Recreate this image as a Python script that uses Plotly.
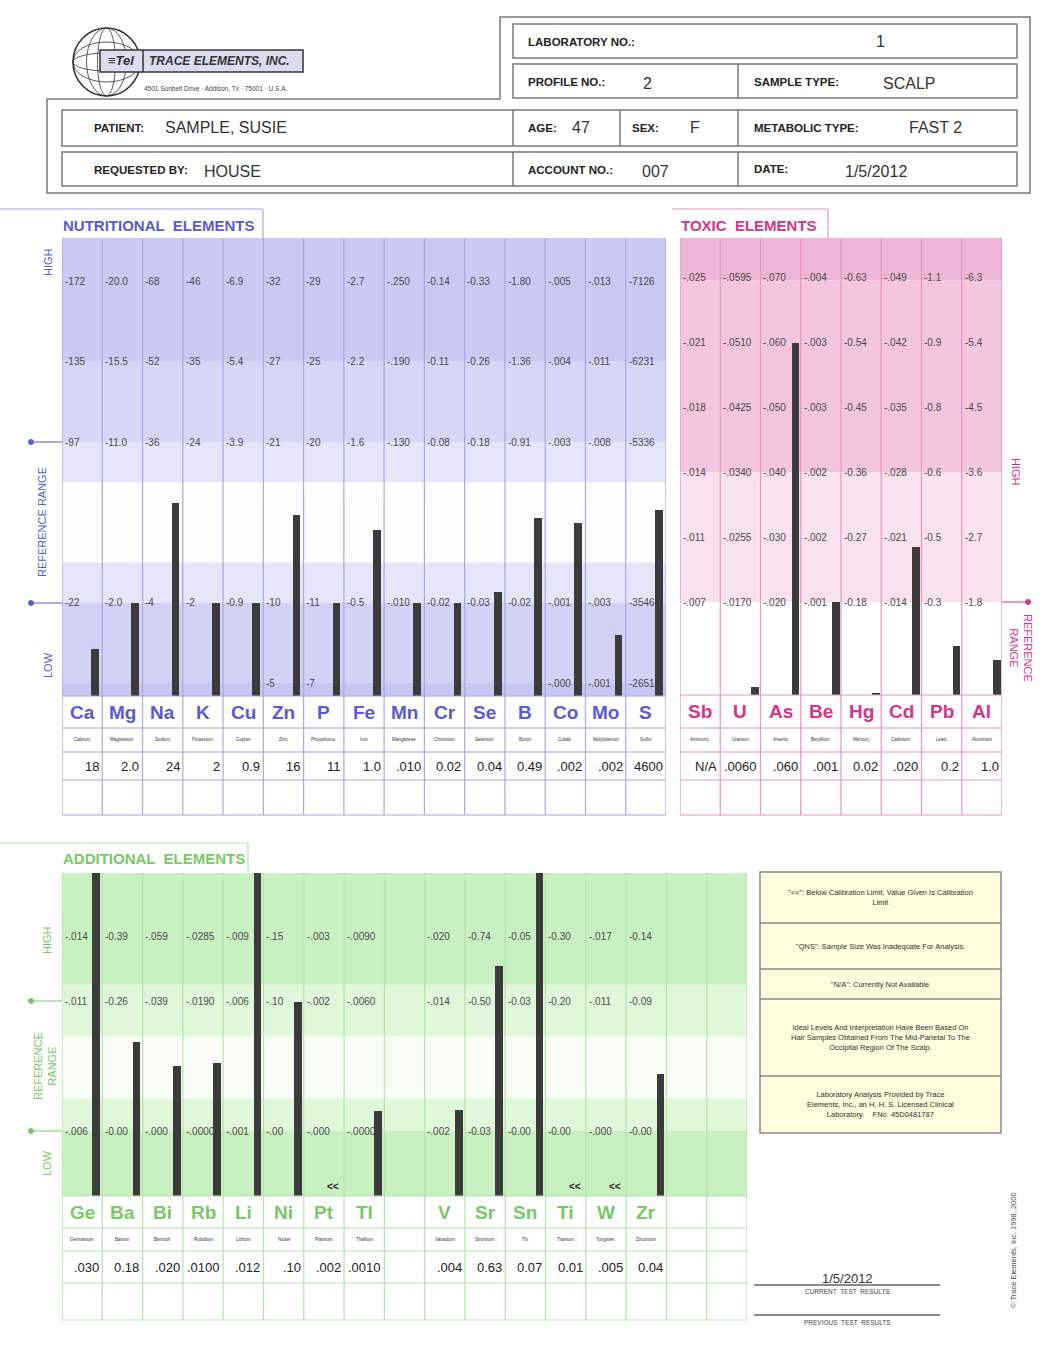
import plotly.graph_objects as go

W, H = 1051, 1358

# header info
LAB_NO = "1"
PROFILE_NO = "2"
SAMPLE_TYPE = "SCALP"
PATIENT = "SAMPLE, SUSIE"
AGE = "47"
SEX = "F"
METABOLIC_TYPE = "FAST 2"
REQUESTED_BY = "HOUSE"
ACCOUNT_NO = "007"
TEST_DATE = "1/5/2012"

# nutritional elements (bar heights in gauge steps, 0 = lowest mark, 1 = ref low, 3 = ref high)
NUTR_SYMBOLS = ["Ca", "Mg", "Na", "K", "Cu", "Zn", "P", "Fe", "Mn", "Cr", "Se", "B", "Co", "Mo", "S"]
NUTR_NAMES = ["Calcium", "Magnesium", "Sodium", "Potassium", "Copper", "Zinc", "Phosphorus", "Iron",
              "Manganese", "Chromium", "Selenium", "Boron", "Cobalt", "Molybdenum", "Sulfur"]
NUTR_RESULTS = ["18", "2.0", "24", "2", "0.9", "16", "11", "1.0", ".010", "0.02", "0.04", "0.49", ".002", ".002", "4600"]
NUTR_BARS = [0.42, 1.0, 2.24, 1.0, 1.0, 2.09, 1.0, 1.90, 1.0, 1.0, 1.13, 2.05, 1.99, 0.60, 2.16]
NUTR_TICK_5 = ["172", "20.0", "68", "46", "6.9", "32", "29", "2.7", ".250", "0.14", "0.33", "1.80", ".005", ".013", "7126"]
NUTR_TICK_4 = ["135", "15.5", "52", "35", "5.4", "27", "25", "2.2", ".190", "0.11", "0.26", "1.36", ".004", ".011", "6231"]
NUTR_TICK_3 = ["97", "11.0", "36", "24", "3.9", "21", "20", "1.6", ".130", "0.08", "0.18", "0.91", ".003", ".008", "5336"]
NUTR_TICK_1 = ["22", "2.0", "4", "2", "0.9", "10", "11", "0.5", ".010", "0.02", "0.03", "0.02", ".001", ".003", "3546"]
NUTR_TICK_0 = ["", "", "", "", "", "5", "7", "", "", "", "", "", ".000", ".001", "2651"]

# toxic elements (0 = top of reference range)
TOX_SYMBOLS = ["Sb", "U", "As", "Be", "Hg", "Cd", "Pb", "Al"]
TOX_NAMES = ["Antimony", "Uranium", "Arsenic", "Beryllium", "Mercury", "Cadmium", "Lead", "Aluminum"]
TOX_RESULTS = ["N/A", ".0060", ".060", ".001", "0.02", ".020", "0.2", "1.0"]
TOX_BARS = [None, -1.31, 3.98, 0.0, -1.40, 0.85, -0.68, -0.89]
TOX_TICK_5 = [".025", ".0595", ".070", ".004", "0.63", ".049", "1.1", "6.3"]
TOX_TICK_4 = [".021", ".0510", ".060", ".003", "0.54", ".042", "0.9", "5.4"]
TOX_TICK_3 = [".018", ".0425", ".050", ".003", "0.45", ".035", "0.8", "4.5"]
TOX_TICK_2 = [".014", ".0340", ".040", ".002", "0.36", ".028", "0.6", "3.6"]
TOX_TICK_1 = [".011", ".0255", ".030", ".002", "0.27", ".021", "0.5", "2.7"]
TOX_TICK_0 = [".007", ".0170", ".020", ".001", "0.18", ".014", "0.3", "1.8"]

# additional elements (1 = ref low, 3 = ref high)
ADD_SYMBOLS = ["Ge", "Ba", "Bi", "Rb", "Li", "Ni", "Pt", "Tl", "", "V", "Sr", "Sn", "Ti", "W", "Zr", "", ""]
ADD_NAMES = ["Germanium", "Barium", "Bismuth", "Rubidium", "Lithium", "Nickel", "Platinum", "Thallium", "",
             "Vanadium", "Strontium", "Tin", "Titanium", "Tungsten", "Zirconium", "", ""]
ADD_RESULTS = [".030", "0.18", ".020", ".0100", ".012", ".10", ".002", ".0010", "",
               ".004", "0.63", "0.07", "0.01", ".005", "0.04", "", ""]
ADD_BARS = [5.0, 2.37, 2.0, 2.05, 5.0, 2.98, None, 1.31, None, 1.32, 3.54, 5.0, None, None, 1.88, None, None]
ADD_BELOW_CAL = [False, False, False, False, False, False, True, False, False,
                 False, False, False, True, True, False, False, False]
ADD_TICK_4 = [".014", "0.39", ".059", ".0285", ".009", ".15", ".003", ".0090", "", ".020", "0.74", "0.05", "0.30", ".017", "0.14", "", ""]
ADD_TICK_3 = [".011", "0.26", ".039", ".0190", ".006", ".10", ".002", ".0060", "", ".014", "0.50", "0.03", "0.20", ".011", "0.09", "", ""]
ADD_TICK_1 = [".006", "0.00", ".000", ".0000", ".001", ".00", ".000", ".0000", "", ".002", "0.03", "0.00", "0.00", ".000", "0.00", "", ""]

NOTES = [
    '"<<": Below Calibration Limit, Value Given Is Calibration<br>Limit',
    '"QNS": Sample Size Was Inadequate For Analysis.',
    '"N/A": Currently Not Available',
    'Ideal Levels And Interpretation Have Been Based On<br>Hair Samples Obtained From The Mid-Parietal To The<br>Occipital Region Of The Scalp.',
    'Laboratory Analysis Provided by Trace<br>Elements, Inc., an H. H. S. Licensed Clinical<br>Laboratory.    FNo. 45D0481787',
]

SANS = "Liberation Sans, Arial, sans-serif"
NARROW = "Liberation Sans Narrow, Arial Narrow, Liberation Sans, sans-serif"

shapes = []
annos = []


def X(p):
    return p / W


def Y(p):
    return 1 - p / H


def rect(x0, y0, x1, y1, color="#777", width=1.2, fill="rgba(0,0,0,0)", layer="above"):
    shapes.append(dict(type="rect", xref="paper", yref="paper", x0=X(x0), x1=X(x1), y0=Y(y1), y1=Y(y0),
                       line=dict(color=color, width=width), fillcolor=fill, layer=layer))


def seg(x0, y0, x1, y1, color="#777", width=1.2):
    shapes.append(dict(type="line", xref="paper", yref="paper", x0=X(x0), x1=X(x1), y0=Y(y0), y1=Y(y1),
                       line=dict(color=color, width=width)))


def dot(x, y, color, r=2.5):
    shapes.append(dict(type="circle", xref="paper", yref="paper", x0=X(x - r), x1=X(x + r), y0=Y(y + r), y1=Y(y - r),
                       line=dict(color=color, width=1), fillcolor=color))


def text(x, y, s, size=10, color="#222", anchor="left", family=SANS, angle=0):
    annos.append(dict(x=X(x), y=Y(y), xref="paper", yref="paper", text=s, showarrow=False, xanchor=anchor,
                      yanchor="middle", textangle=angle, font=dict(size=size, color=color, family=family)))


fig = go.Figure()
axes = {}


def panel(k, x0, x1, ytop, ybot, zero_px, unit_px, symbols, names, results, bars, ticks, rows,
          color, grid, bands, bar_pos):
    n = len(symbols)
    xa = "x" if k == 1 else f"x{k}"
    ya = "y" if k == 1 else f"y{k}"
    lo = (zero_px - ybot) / unit_px
    hi = (zero_px - ytop) / unit_px
    axes["xaxis" if k == 1 else f"xaxis{k}"] = dict(domain=[X(x0), X(x1)], range=[0, n], visible=False,
                                                     fixedrange=True, anchor=ya)
    axes["yaxis" if k == 1 else f"yaxis{k}"] = dict(domain=[Y(ybot), Y(ytop)], range=[lo, hi], visible=False,
                                                     fixedrange=True, anchor=xa)
    for b0, b1, c in bands:
        shapes.append(dict(type="rect", xref=xa, yref=ya, x0=0, x1=n, y0=max(b0, lo), y1=min(b1, hi),
                           fillcolor=c, line=dict(width=0), layer="below"))
    # grid
    for i in range(n + 1):
        shapes.append(dict(type="line", xref=xa, yref="paper", x0=i, x1=i, y0=Y(rows[-1]), y1=Y(ytop),
                           line=dict(color=grid, width=1.2)))
    for r in rows:
        shapes.append(dict(type="line", xref=xa, yref="paper", x0=0, x1=n, y0=Y(r), y1=Y(r),
                           line=dict(color=grid, width=1.2)))
    # gauge labels
    for level, labels in ticks:
        for i, lab in enumerate(labels):
            if lab:
                annos.append(dict(x=i + 0.02, y=level, xref=xa, yref=ya, text="-" + lab, showarrow=False,
                                  xanchor="left", yanchor="middle",
                                  font=dict(size=10, color="#4a4a4a", family=NARROW)))
    # table
    for i in range(n):
        annos.append(dict(x=i + 0.5, y=Y((rows[0] + rows[1]) / 2), xref=xa, yref="paper",
                          text="<b>" + symbols[i] + "</b>", showarrow=False, xanchor="center", yanchor="middle",
                          font=dict(size=19, color=color, family=NARROW)))
        annos.append(dict(x=i + 0.5, y=Y((rows[1] + rows[2]) / 2), xref=xa, yref="paper", text=names[i],
                          showarrow=False, xanchor="center", yanchor="middle",
                          font=dict(size=4.5, color="#333", family=SANS)))
        annos.append(dict(x=i + 0.97, y=Y((rows[2] + rows[3]) / 2), xref=xa, yref="paper", text=results[i],
                          showarrow=False, xanchor="right", yanchor="middle",
                          font=dict(size=13, color="#222", family=SANS)))
    xs = [i + bar_pos for i, v in enumerate(bars) if v is not None]
    ys = [v - lo for v in bars if v is not None]
    fig.add_trace(go.Bar(x=xs, y=ys, base=lo, width=0.19, marker=dict(color="#3b3b3b", line=dict(width=0)),
                         xaxis=xa, yaxis=ya, hoverinfo="skip", showlegend=False))
    return xa, ya


# ---------- header ----------
HDR = "#7a7a7a"
shapes.append(dict(type="path", xref="paper", yref="paper", line=dict(color=HDR, width=1.5),
                   path=f"M {X(47)},{Y(99)} L {X(500)},{Y(99)} L {X(500)},{Y(17)} L {X(1030)},{Y(17)} "
                        f"L {X(1030)},{Y(193)} L {X(47)},{Y(193)} Z"))
rect(513, 24, 1017, 58, HDR, 1.5)
rect(513, 64, 1017, 98, HDR, 1.5)
seg(738, 64, 738, 98, HDR, 1.5)
rect(62, 110, 1017, 146, HDR, 1.5)
for xv in (513, 620, 738):
    seg(xv, 110, xv, 146, HDR, 1.5)
rect(62, 152, 1017, 186, HDR, 1.5)
for xv in (513, 738):
    seg(xv, 152, xv, 186, HDR, 1.5)

LBL = dict(size=11.5, color="#222", family=NARROW)
VAL = dict(size=16, color="#333", family=SANS)
for s, x, y in [("LABORATORY NO.:", 526, 42), ("PROFILE NO.:", 526, 82), ("SAMPLE TYPE:", 752, 82),
                ("PATIENT:", 92, 128), ("AGE:", 526, 128), ("SEX:", 630, 128), ("METABOLIC TYPE:", 752, 128),
                ("REQUESTED BY:", 92, 170), ("ACCOUNT NO.:", 526, 170), ("DATE:", 752, 169)]:
    text(x, y, "<b>" + s + "</b>", **LBL)
text(880, 41, LAB_NO, anchor="center", **VAL)
text(641, 83, PROFILE_NO, **VAL)
text(881, 83, SAMPLE_TYPE, **VAL)
text(163, 127, PATIENT, **VAL)
text(570, 127, AGE, **VAL)
text(688, 127, SEX, **VAL)
text(907, 127, METABOLIC_TYPE, **VAL)
text(202, 171, REQUESTED_BY, **VAL)
text(640, 171, ACCOUNT_NO, **VAL)
text(843, 171, TEST_DATE, **VAL)

# logo
GLOBE = "#333"
shapes.append(dict(type="circle", xref="paper", yref="paper", x0=X(73), x1=X(140), y0=Y(96), y1=Y(28),
                   line=dict(color=GLOBE, width=1.6), fillcolor="white"))
for hw in (9, 20):
    shapes.append(dict(type="circle", xref="paper", yref="paper", x0=X(106.5 - hw), x1=X(106.5 + hw),
                       y0=Y(96), y1=Y(28), line=dict(color=GLOBE, width=0.8)))
    shapes.append(dict(type="circle", xref="paper", yref="paper", x0=X(73), x1=X(140),
                       y0=Y(62 + hw), y1=Y(62 - hw), line=dict(color=GLOBE, width=0.8)))
rect(100, 50, 303, 72, "#333", 1.5, fill="#dcdcf0")
seg(143, 50, 143, 72, "#333", 1.5)
text(121, 61, "<b><i>≡Tel</i></b>", size=13, color="#333", anchor="center", family=SANS)
text(147, 61, "<b><i>TRACE ELEMENTS, INC.</i></b>", size=12, color="#333", family=SANS)
text(142, 89, "4501 Sunbelt Drive · Addison, Tx · 75001 · U.S.A.", size=6.5, color="#444", family=NARROW)

# ---------- nutritional ----------
NC, NG = "#5a5ad4", "#a8a8e4"
seg(0, 209, 263, 209, NG, 1.2)
seg(263, 209, 263, 238, NG, 1.2)
text(61, 226, "<b>NUTRITIONAL  ELEMENTS</b>", size=15, color=NC, family=NARROW)
panel(1, 62, 666, 238, 696, 683, 80.3, NUTR_SYMBOLS, NUTR_NAMES, NUTR_RESULTS, NUTR_BARS,
      [(5, NUTR_TICK_5), (4, NUTR_TICK_4), (3, NUTR_TICK_3), (1, NUTR_TICK_1), (0, NUTR_TICK_0)],
      [696, 728, 752, 780, 815], NC, NG,
      [(4, 9, "#c9c9f4"), (3, 4, "#d6d6f7"), (2.5, 3, "#e6e6fa"), (1.5, 2.5, "#fdfdff"),
       (1, 1.5, "#e6e6fa"), (0, 1, "#d2d2f6"), (-9, 0, "#c6c6f2")], 0.82)
text(48, 262, "HIGH", size=11, color=NC, anchor="center", family=NARROW, angle=-90)
text(42, 522, "REFERENCE RANGE", size=11, color=NC, anchor="center", family=NARROW, angle=-90)
text(48, 665, "LOW", size=11, color=NC, anchor="center", family=NARROW, angle=-90)
for yv in (442, 603):
    seg(31, yv, 62, yv, NC, 1)
    dot(31, yv, NC)

# ---------- toxic ----------
TC, TG = "#d6338a", "#e596c4"
seg(672, 209, 828, 209, TG, 1.2)
seg(828, 209, 828, 238, TG, 1.2)
text(679, 226, "<b>TOXIC  ELEMENTS</b>", size=15, color=TC, family=NARROW)
panel(2, 680, 1002, 238, 695, 602, 65, TOX_SYMBOLS, TOX_NAMES, TOX_RESULTS, TOX_BARS,
      [(5, TOX_TICK_5), (4, TOX_TICK_4), (3, TOX_TICK_3), (2, TOX_TICK_2), (1, TOX_TICK_1), (0, TOX_TICK_0)],
      [695, 728, 752, 780, 815], TC, TG,
      [(4.95, 9, "#eeb6d6"), (2, 4.95, "#f3c5df"), (0, 2, "#f9e1ee"), (-9, 0, "#ffffff")], 0.87)
text(1016, 472, "HIGH", size=11, color=TC, anchor="center", family=NARROW, angle=90)
text(1021, 648, "REFERENCE<br>RANGE", size=11, color=TC, anchor="center", family=NARROW, angle=90)
seg(1002, 602, 1028, 602, TC, 1)
dot(1028, 602, TC)

# ---------- additional ----------
AC, AG = "#78c868", "#b4e4ac"
seg(0, 843, 248, 843, AG, 1.2)
seg(248, 843, 248, 872, AG, 1.2)
text(61, 858, "<b>ADDITIONAL  ELEMENTS</b>", size=15, color=AC, family=NARROW)
axa, aya = panel(3, 62, 747, 873, 1196, 1196, 65, ADD_SYMBOLS, ADD_NAMES, ADD_RESULTS, ADD_BARS,
                 [(4, ADD_TICK_4), (3, ADD_TICK_3), (1, ADD_TICK_1)],
                 [1196, 1228, 1251, 1283, 1320], AC, AG,
                 [(3.25, 9, "#c9f0c0"), (2.45, 3.25, "#e0f7da"), (1.5, 2.45, "#f8fdf6"),
                  (1, 1.5, "#e0f7da"), (-9, 1, "#c9f0c0")], 0.85)
for i, flag in enumerate(ADD_BELOW_CAL):
    if flag:
        annos.append(dict(x=i + 0.72, y=0.14, xref=axa, yref=aya, text="<b><<</b>", showarrow=False,
                          xanchor="center", yanchor="middle", font=dict(size=10, color="#222", family=SANS)))
text(47, 940, "HIGH", size=11, color=AC, anchor="center", family=NARROW, angle=-90)
text(45, 1066, "REFERENCE<br>RANGE", size=11, color=AC, anchor="center", family=NARROW, angle=-90)
text(47, 1163, "LOW", size=11, color=AC, anchor="center", family=NARROW, angle=-90)
for yv in (1001, 1131):
    seg(31, yv, 62, yv, AC, 1)
    dot(31, yv, AC)

# ---------- notes ----------
rect(760, 872, 1001, 1133, "#8a8a8a", 1.5, fill="#fdfcdc", layer="below")
note_rows = [872, 923, 969, 999, 1076, 1133]
for yv in note_rows[1:-1]:
    seg(760, yv, 1001, yv, "#8a8a8a", 1.5)
for k, note in enumerate(NOTES):
    text(880, (note_rows[k] + note_rows[k + 1]) / 2, note, size=7.5, color="#333", anchor="center", family=NARROW)

text(847, 1278, TEST_DATE, size=13, color="#333", anchor="center")
seg(754, 1285, 940, 1285, "#666", 1.5)
text(847, 1291, "CURRENT  TEST  RESULTS", size=6.5, color="#444", anchor="center", family=NARROW)
seg(754, 1315, 940, 1315, "#666", 1.5)
text(847, 1322, "PREVIOUS  TEST  RESULTS", size=6.5, color="#444", anchor="center", family=NARROW)
text(1013, 1250, "© Trace Elements, Inc. 1998, 2000", size=7.5, color="#444", anchor="center", family=NARROW, angle=-90)

fig.update_layout(
    width=W, height=H, autosize=False,
    margin=dict(l=0, r=0, t=0, b=0),
    paper_bgcolor="white", plot_bgcolor="rgba(0,0,0,0)",
    showlegend=False, bargap=0,
    shapes=shapes, annotations=annos,
    font=dict(family=SANS),
    **axes,
)

fig.write_html("out.html", config={"displayModeBar": False, "staticPlot": True},
               post_script="document.body.style.margin='0';")
